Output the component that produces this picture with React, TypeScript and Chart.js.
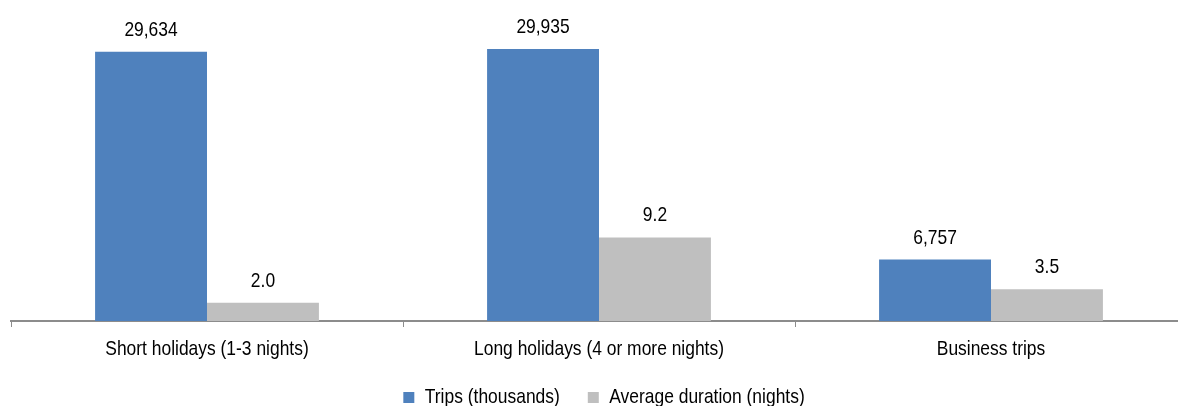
import React, { useEffect, useRef } from "react";
import { Chart, registerables } from "chart.js";

Chart.register(...registerables);

const categories = ["Short holidays (1-3 nights)", "Long holidays (4 or more nights)", "Business trips"];
const tripsThousands = [29634, 29935, 6757];
const avgDurationNights = [2.0, 9.2, 3.5];
const seriesNames = ["Trips (thousands)", "Average duration (nights)"];

const FONT = '"Liberation Sans", Arial, sans-serif';
const NARROW = 0.83;

const valueLabels = {
  id: "valueLabels",
  afterDatasetsDraw(chart: any) {
    const ctx = chart.ctx;
    ctx.save();
    ctx.font = `21px ${FONT}`;
    ctx.fillStyle = "#000000";
    ctx.textAlign = "center";
    ctx.textBaseline = "alphabetic";
    chart.data.datasets.forEach((ds: any, di: number) => {
      const meta = chart.getDatasetMeta(di);
      meta.data.forEach((el: any, i: number) => {
        const v = ds.data[i];
        const txt = di === 0 ? v.toLocaleString("en-US") : v.toFixed(1);
        ctx.fillText(txt, el.x, el.y - 16);
      });
    });
    ctx.restore();
  },
};

const legendShift = {
  id: "legendShift",
  afterLayout(chart: any) {
    if (chart.legend) {
      chart.legend.left += 5;
      chart.legend.right += 5;
    }
  },
};

function condense(ctx: any) {
  if (ctx.__condensed) return;
  ctx.__condensed = true;
  const origFill = ctx.fillText.bind(ctx);
  const origMeasure = ctx.measureText.bind(ctx);
  ctx.fillText = (t: string, x: number, y: number) => {
    ctx.save();
    ctx.translate(x, y);
    ctx.scale(NARROW, 1);
    origFill(t, 0, 0);
    ctx.restore();
  };
  ctx.measureText = (t: string) => {
    const m = origMeasure(t);
    return {
      width: m.width * NARROW,
      actualBoundingBoxAscent: m.actualBoundingBoxAscent,
      actualBoundingBoxDescent: m.actualBoundingBoxDescent,
      actualBoundingBoxLeft: m.actualBoundingBoxLeft * NARROW,
      actualBoundingBoxRight: m.actualBoundingBoxRight * NARROW,
      fontBoundingBoxAscent: m.fontBoundingBoxAscent,
      fontBoundingBoxDescent: m.fontBoundingBoxDescent,
    };
  };
}

export default function App() {
  const ref = useRef<HTMLCanvasElement>(null);
  useEffect(() => {
    if (!ref.current) return;
    const ctx2d = ref.current.getContext("2d");
    condense(ctx2d);
    const chart = new Chart(ctx2d as any, {
      type: "bar",
      data: {
        labels: categories,
        datasets: [
          {
            label: seriesNames[0],
            data: tripsThousands,
            backgroundColor: "#4F81BD",
            yAxisID: "y",
            barPercentage: 1,
            categoryPercentage: 0.571,
          },
          {
            label: seriesNames[1],
            data: avgDurationNights,
            backgroundColor: "#BFBFBF",
            yAxisID: "y1",
            barPercentage: 1,
            categoryPercentage: 0.571,
          },
        ],
      },
      options: {
        animation: false,
        responsive: false,
        maintainAspectRatio: false,
        layout: { padding: { left: 11, right: 3, top: 3, bottom: 0 } },
        scales: {
          x: {
            afterFit(scale: any) {
              scale.height = 38;
            },
            grid: {
              display: true,
              drawOnChartArea: false,
              drawTicks: true,
              tickLength: 6,
              color: "#8c8c8c",
              offset: true,
            },
            border: { display: true, color: "#8c8c8c", width: 2 },
            ticks: {
              color: "#000000",
              font: { family: FONT, size: 21 },
              padding: 10,
              maxRotation: 0,
            },
          },
          y: { display: false, min: 0, max: 35000 },
          y1: { display: false, min: 0, max: 35, position: "right" },
        },
        plugins: {
          legend: {
            position: "bottom",
            labels: {
              boxWidth: 11,
              boxHeight: 11,
              padding: 28,
              color: "#000000",
              font: { family: FONT, size: 21 },
            },
          },
          tooltip: { enabled: false },
        },
      },
      plugins: [valueLabels, legendShift],
    });
    return () => chart.destroy();
  }, []);
  return (
    <div style={{ position: "fixed", left: 0, top: 0, width: 1178, height: 406, overflow: "hidden", background: "#fff" }}>
      <canvas ref={ref} width={1190} height={418} style={{ display: "block", width: 1190, height: 418 }} />
    </div>
  );
}
